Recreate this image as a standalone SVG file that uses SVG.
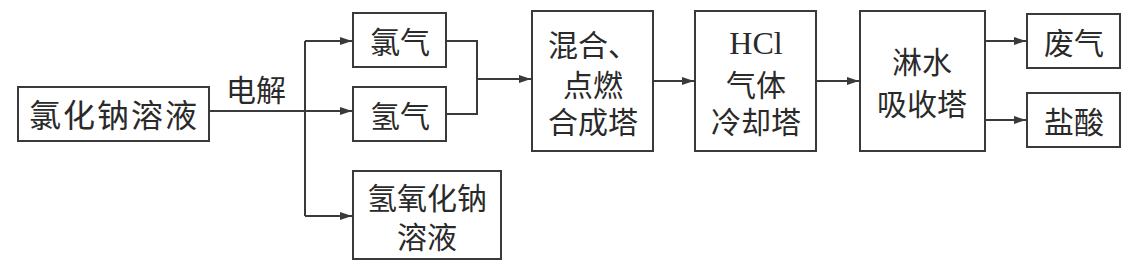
<svg xmlns="http://www.w3.org/2000/svg" width="1129" height="264" viewBox="0 0 1129 264">
<defs>
<marker id="ah" viewBox="0 0 12 8" refX="12" refY="4" markerWidth="12" markerHeight="8" markerUnits="userSpaceOnUse" orient="auto">
<path d="M0,0 L12,4 L0,8 Z" fill="#3a3a3a"/>
</marker>
<style>
rect{fill:#fff;stroke:#3a3a3a;stroke-width:2}
text{font-family:"Noto Sans CJK SC","Noto Sans CJK JP",sans-serif;font-size:30px;fill:#2a2a2a;text-anchor:middle;dominant-baseline:central}
.lat{font-family:"Liberation Serif","Noto Sans CJK SC",serif;font-size:32px}
.ln{fill:none;stroke:#3a3a3a;stroke-width:2}
</style>
</defs>
<rect width="1129" height="264" style="fill:#fff;stroke:none"/>
<g id="connectors">
<path class="ln" d="M209,111 H305"/>
<path class="ln" d="M305,41 V216"/>
<path class="ln" d="M305,41 H352" marker-end="url(#ah)"/>
<path class="ln" d="M305,111 H352" marker-end="url(#ah)"/>
<path class="ln" d="M305,216 H352" marker-end="url(#ah)"/>
<path class="ln" d="M446,41 H477 V114 H446"/>
<path class="ln" d="M477,79 H531" marker-end="url(#ah)"/>
<path class="ln" d="M653,81 H694" marker-end="url(#ah)"/>
<path class="ln" d="M816,81 H859" marker-end="url(#ah)"/>
<path class="ln" d="M985,41 H1026" marker-end="url(#ah)"/>
<path class="ln" d="M985,120 H1026" marker-end="url(#ah)"/>
<text x="256" y="88">电解</text>
</g>
<g id="nacl">
<rect x="18" y="87" width="191" height="54"/>
<text x="114" y="113" style="font-size:32px;letter-spacing:2px">氯化钠溶液</text>
</g>
<g id="cl2">
<rect x="353" y="13" width="93" height="54"/>
<text x="400" y="40">氯气</text>
</g>
<g id="h2">
<rect x="353" y="87" width="93" height="54"/>
<text x="400" y="114">氢气</text>
</g>
<g id="naoh">
<rect x="353" y="171" width="148" height="88"/>
<text x="427" y="196">氢氧化钠</text>
<text x="427" y="235">溶液</text>
</g>
<g id="synth">
<rect x="532" y="11" width="121" height="140"/>
<text x="593" y="43">混合、</text>
<text x="593" y="83">点燃</text>
<text x="593" y="120">合成塔</text>
</g>
<g id="cool">
<rect x="695" y="11" width="121" height="140"/>
<text class="lat" x="756" y="43">HCl</text>
<text x="756" y="83">气体</text>
<text x="756" y="120">冷却塔</text>
</g>
<g id="absorb">
<rect x="860" y="11" width="125" height="140"/>
<text x="922" y="60">淋水</text>
<text x="922" y="102">吸收塔</text>
</g>
<g id="waste">
<rect x="1027" y="14" width="93" height="54"/>
<text x="1074" y="41">废气</text>
</g>
<g id="hcl">
<rect x="1027" y="93" width="93" height="54"/>
<text x="1074" y="120">盐酸</text>
</g>
</svg>
